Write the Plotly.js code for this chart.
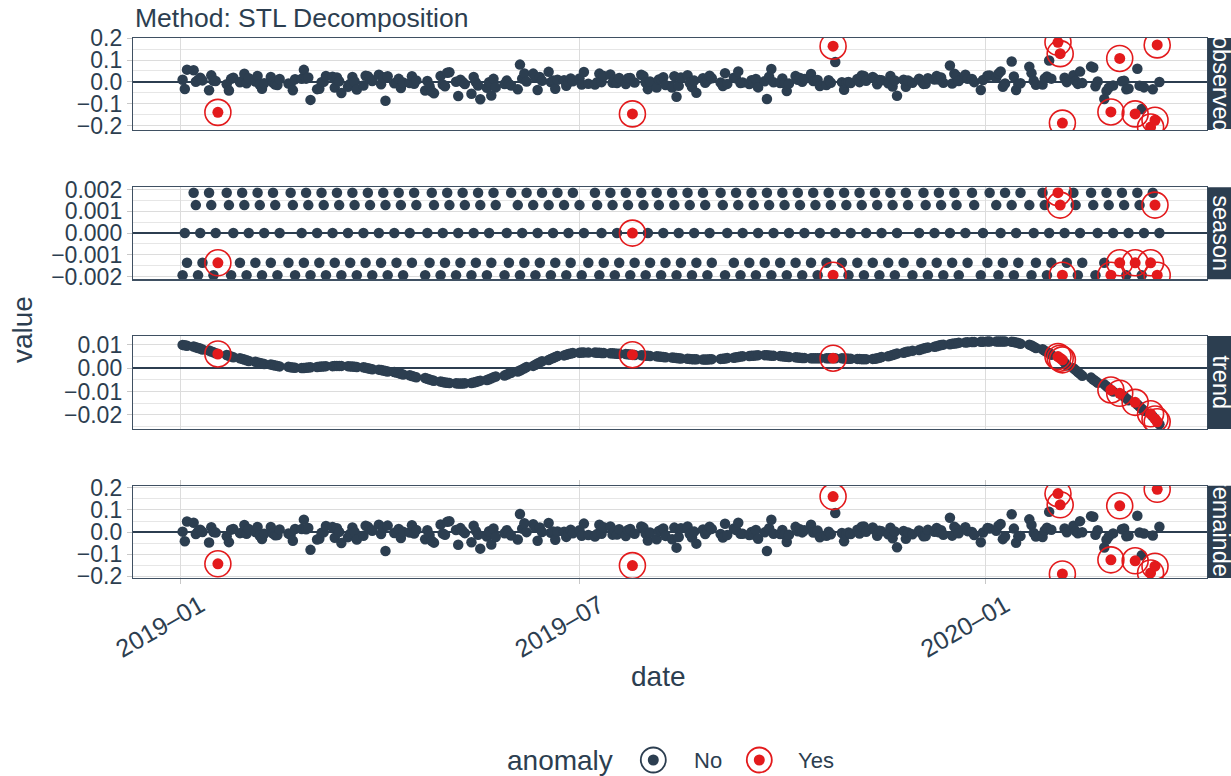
<!DOCTYPE html>
<html><head><meta charset="utf-8">
<script src="https://cdn.plot.ly/plotly-3.0.1.min.js"></script>
<style>html,body{margin:0;padding:0;background:#fff;}#chart{width:1231px;height:776px;}</style>
</head><body><div id="chart"></div>
<script>
// ---- data ----
const startDate = '2019-01-02';
const endDate = '2020-03-20';
const marketHolidays = ['2019-01-21','2019-02-18','2019-04-19','2019-05-27','2019-07-04','2019-09-02','2019-11-28','2019-12-25','2020-01-01','2020-01-20','2020-02-17'];

const observed = [
 0.010,-0.032,0.056,0.053,0.001,0.009,0.019,0.007,-0.038,0.030,0.005,0.004,-0.139,-0.011,-0.039,0.014,0.019,-0.002,0.004,0.037,-0.006,
 0.017,0.002,0.027,-0.013,-0.031,-0.006,0.023,-0.003,-0.012,-0.014,0.013,-0.007,-0.010,-0.038,0.012,0.014,0.055,0.015,0.020,
 -0.082,-0.033,-0.031,-0.001,0.001,0.027,0.024,-0.026,0.020,0.003,-0.051,-0.022,-0.008,0.023,0.002,-0.035,-0.016,0.028,0.026,0.014,0.004,
 0.033,-0.011,0.021,-0.086,0.026,-0.006,-0.003,0.014,-0.028,-0.003,-0.005,0.026,-0.008,0.007,-0.039,0.004,-0.020,-0.044,-0.052,0.027,-0.012,
 -0.020,0.042,0.044,0.001,-0.064,0.010,0.000,-0.010,-0.054,0.023,-0.002,-0.016,-0.079,-0.027,-0.001,-0.062,0.014,-0.025,-0.010,0.006,-0.009,-0.016,
 -0.034,0.079,0.015,0.039,0.002,0.038,0.020,-0.037,0.022,0.005,0.046,-0.001,0.007,-0.031,0.010,0.008,-0.018,-0.002,0.016,0.003,
 0.016,-0.012,0.045,-0.008,-0.012,-0.001,0.038,-0.001,0.027,0.034,-0.004,0.010,-0.005,0.018,-0.010,0.017,0.018,-0.146,-0.003,0.033,0.027,-0.003,
 -0.033,0.002,-0.026,0.011,0.012,0.021,-0.014,-0.026,0.026,-0.068,-0.018,0.020,0.031,-0.004,-0.023,0.006,-0.050,0.017,-0.004,0.007,0.028,0.017,
 -0.003,-0.019,0.040,-0.009,0.019,0.016,0.048,-0.005,-0.003,-0.010,0.008,-0.005,0.013,-0.025,0.003,-0.078,0.024,0.059,-0.002,-0.005,
 0.016,-0.006,-0.042,-0.007,0.027,0.010,0.018,0.001,0.013,0.036,0.004,0.007,0.009,-0.019,-0.014,0.008,-0.004,0.163,0.091,-0.001,-0.036,-0.004,0.000,
 -0.005,0.013,-0.001,0.029,0.027,0.005,0.023,0.014,-0.011,0.009,0.008,-0.006,0.027,-0.021,0.007,-0.063,0.010,-0.022,0.007,-0.004,
 0.015,0.004,-0.009,-0.008,0.017,0.011,0.027,0.011,0.020,-0.004,0.075,-0.007,0.037,0.027,0.004,0.033,0.014,0.013,-0.001,-0.037,0.009,
 0.028,0.029,0.019,0.038,0.048,-0.022,-0.007,0.093,0.025,-0.037,-0.010,-0.006,0.069,0.040,0.005,-0.013,-0.012,0.016,0.025,0.098,0.015,
 0.181,0.129,-0.188,0.019,-0.001,0.031,0.004,-0.009,0.047,-0.005,0.070,0.066,-0.020,0.002,-0.078,-0.041,-0.027,-0.137,-0.016,
 0.107,0.003,0.005,-0.034,-0.030,-0.146,0.060,-0.017,-0.124,-0.025,-0.206,-0.034,-0.175,0.169,0.000
];

const seasonPattern = [-0.00194, 0.00000, -0.00137, 0.00186, 0.00129];

const trend = [
 0.0100,0.0098,0.0096,0.0093,0.0090,0.0087,0.0084,0.0080,0.0076,0.0072,0.0068,
 0.0064,0.0061,0.0057,0.0053,0.0050,0.0047,0.0043,0.0040,0.0037,0.0034,
 0.0031,0.0028,0.0025,0.0022,0.0020,0.0018,0.0016,0.0014,0.0012,0.0010,
 0.0008,0.0006,0.0004,0.0003,0.0002,0.0001,0.0001,0.0002,0.0003,0.0004,
 0.0005,0.0006,0.0007,0.0008,0.0009,0.0009,0.0010,0.0010,0.0010,0.0010,
 0.0009,0.0008,0.0007,0.0006,0.0005,0.0004,0.0002,0.0000,-0.0002,-0.0004,
 -0.0006,-0.0008,-0.0010,-0.0012,-0.0014,-0.0016,-0.0018,-0.0021,-0.0024,-0.0027,
 -0.0030,-0.0033,-0.0036,-0.0039,-0.0042,-0.0045,-0.0048,-0.0051,-0.0054,-0.0057,
 -0.0059,-0.0061,-0.0062,-0.0063,-0.0064,-0.0065,-0.0065,-0.0065,-0.0064,-0.0063,
 -0.0061,-0.0059,-0.0056,-0.0053,-0.0050,-0.0047,-0.0043,-0.0039,-0.0035,-0.0031,
 -0.0027,-0.0023,-0.0019,-0.0014,-0.0010,-0.0005,0.0000,0.0005,0.0010,0.0015,
 0.0020,0.0025,0.0030,0.0035,0.0040,0.0044,0.0048,0.0052,0.0055,0.0058,
 0.0061,0.0063,0.0065,0.0066,0.0067,0.0067,0.0067,0.0067,0.0066,0.0066,
 0.0065,0.0065,0.0064,0.0064,0.0063,0.0062,0.0062,0.0061,0.0060,0.0059,
 0.0058,0.0057,0.0056,0.0055,0.0054,0.0053,0.0052,0.0051,0.0050,0.0049,
 0.0048,0.0047,0.0046,0.0045,0.0044,0.0043,0.0042,0.0041,0.0040,0.0039,
 0.0038,0.0038,0.0037,0.0037,0.0037,0.0038,0.0039,0.0040,0.0041,0.0042,
 0.0044,0.0045,0.0047,0.0048,0.0050,0.0051,0.0052,0.0053,0.0054,0.0055,
 0.0056,0.0056,0.0056,0.0055,0.0054,0.0053,0.0052,0.0051,0.0050,0.0049,
 0.0048,0.0047,0.0046,0.0045,0.0044,0.0044,0.0043,0.0043,0.0043,0.0043,
 0.0043,0.0043,0.0043,0.0043,0.0043,0.0043,0.0043,0.0042,0.0042,0.0041,
 0.0041,0.0040,0.0040,0.0039,0.0039,0.0039,0.0040,0.0041,0.0043,0.0045,
 0.0048,0.0051,0.0054,0.0057,0.0060,0.0063,0.0066,0.0069,0.0072,0.0075,
 0.0078,0.0081,0.0084,0.0087,0.0089,0.0092,0.0094,0.0097,0.0099,0.0101,
 0.0103,0.0105,0.0106,0.0107,0.0109,0.0110,0.0111,0.0112,0.0112,0.0113,
 0.0113,0.0114,0.0114,0.0114,0.0114,0.0114,0.0114,0.0114,0.0113,0.0112,
 0.0110,0.0108,0.0105,0.0101,0.0097,0.0092,0.0087,0.0081,0.0075,0.0069,
 0.0065,0.0058,0.0050,0.0043,0.0036,0.0024,0.0012,0.0000,-0.0008,-0.0016,
 -0.0024,-0.0032,-0.0040,-0.0048,-0.0055,-0.0062,-0.0069,-0.0077,-0.0085,-0.0093,
 -0.0100,-0.0107,-0.0114,-0.0121,-0.0129,-0.0137,-0.0146,-0.0155,-0.0164,-0.0173,
 -0.0182,-0.0195,-0.0206,-0.0217,-0.0229,-0.0240
];

const anomalyDates = ['2019-01-18','2019-07-25','2019-10-24','2020-02-03','2020-02-04','2020-02-05',
  '2020-02-27','2020-03-02','2020-03-09','2020-03-16','2020-03-18','2020-03-19'];

const panelNames = ['observed','season','trend','remainder'];
const xTickVals = ['2019-01-01','2019-07-01','2020-01-01'];
const xTickText = ['2019\u201301','2019\u201307','2020\u201301'];
const yTickVals = [[-0.2,-0.1,0,0.1,0.2],[-0.002,-0.001,0,0.001,0.002],[-0.02,-0.01,0,0.01],[-0.2,-0.1,0,0.1,0.2]];
const yTickText = [['\u22120.2','\u22120.1','0.0','0.1','0.2'],['\u22120.002','\u22120.001','0.000','0.001','0.002'],['\u22120.02','\u22120.01','0.00','0.01'],['\u22120.2','\u22120.1','0.0','0.1','0.2']];
const yMinorVals = [[-0.15,-0.05,0.05,0.15],[-0.0015,-0.0005,0.0005,0.0015],[-0.025,-0.015,-0.005,0.005],[-0.15,-0.05,0.05,0.15]];
const yRanges = [[-0.2195,0.2005],[-0.00213,0.00211],[-0.0260,0.0138],[-0.208,0.210]];

// ---- build dates (business days) ----
function fmt(d){return d.toISOString().slice(0,10);}
const dates = [];
for (let d = new Date(startDate+'T00:00:00Z'); d <= new Date(endDate+'T00:00:00Z'); d.setUTCDate(d.getUTCDate()+1)) {
  const wd = d.getUTCDay();
  const s = fmt(d);
  if (wd === 0 || wd === 6 || marketHolidays.includes(s)) continue;
  dates.push(s);
}
const season = dates.map((d,i) => seasonPattern[i % seasonPattern.length]);
const remainder = dates.map((d,i) => observed[i] - season[i] - trend[i]);
const series = [observed, season, trend, remainder];
const isAnom = dates.map(d => anomalyDates.includes(d));

const DARK = '#2c3e50', RED = '#e31a1c', BORDER = '#3f5062';
const FONT = 'Liberation Sans, Arial, Helvetica, sans-serif';
const traces = [];
series.forEach((vals, p) => {
  const ya = p === 0 ? 'y' : 'y' + (p+1);
  const nx=[], ny=[], ax=[], ay=[];
  vals.forEach((v,i) => { if (isAnom[i]) { ax.push(dates[i]); ay.push(v); } else { nx.push(dates[i]); ny.push(v); } });
  traces.push({type:'scatter', mode:'markers', x:nx, y:ny, xaxis:'x', yaxis:ya, marker:{color:DARK, size:10.5}, showlegend:false, hoverinfo:'skip'});
  traces.push({type:'scatter', mode:'markers', x:ax, y:ay, xaxis:'x', yaxis:ya, marker:{color:RED, size:11}, showlegend:false, hoverinfo:'skip'});
  traces.push({type:'scatter', mode:'markers', x:ax, y:ay, xaxis:'x', yaxis:ya, marker:{color:RED, size:26, symbol:'circle-open', line:{width:1.6, color:RED}}, showlegend:false, hoverinfo:'skip'});
});

// plot area: left 133, right 1207, top 38, bottom 578
const W = 1231, H = 776, L = 133, R = 24, T = 38, B = 198;
const plotH = H - T - B, plotW = W - L - R;
function py(pix){ return (H - B - pix) / plotH; }
function px(pix){ return (pix - L) / plotW; }
const panelPix = [[38,130],[187.3,279.3],[336,429],[485.7,578]];

const layout = {
  width: W, height: H,
  margin: {l:L, r:R, t:T, b:B},
  paper_bgcolor: '#ffffff', plot_bgcolor: '#ffffff',
  font: {family: FONT, color: DARK},
  showlegend: false,
  xaxis: {
    type:'date', range:['2018-12-10 12:00','2020-04-10 14:00'], anchor:'y4',
    tickmode:'array', tickvals:xTickVals, ticktext:xTickText, tickangle:-30,
    tickfont:{size:25, color:DARK, family:FONT}, ticklabelshift:20, ticklabelstandoff:-3,
    showgrid:true, gridcolor:'#dcdcdc', gridwidth:1,
    showline:true, mirror:'all', linecolor:BORDER, linewidth:1.2,
    ticks:'outside', ticklen:5, tickcolor:'#c8c8c8', zeroline:false
  },
  shapes: [], annotations: []
};
panelNames.forEach((name, p) => {
  const key = p === 0 ? 'yaxis' : 'yaxis' + (p+1);
  const [top, bot] = panelPix[p];
  layout[key] = {
    domain:[py(bot), py(top)], anchor:'x', range:yRanges[p],
    tickmode:'array', tickvals:yTickVals[p], ticktext:yTickText[p],
    tickfont:{size:23, color:DARK, family:FONT},
    showgrid:true, gridcolor:'#dcdcdc', gridwidth:1,
    minor:{tickmode:'array', tickvals:yMinorVals[p], showgrid:true, gridcolor:'#e6e6e6', gridwidth:1, ticks:''},
    zeroline:true, zerolinecolor:DARK, zerolinewidth:2.2,
    showline:true, mirror:true, linecolor:BORDER, linewidth:1.2,
    ticks:'outside', ticklen:5, tickcolor:'#c8c8c8'
  };
  const yref = (p === 0 ? 'y' : 'y' + (p+1)) + ' domain';
  layout.shapes.push({type:'rect', xref:'paper', yref:yref, x0:1.0005, x1:1.06, y0:0, y1:1, fillcolor:DARK, line:{width:0}, layer:'above'});
  layout.annotations.push({xref:'paper', yref:yref, x:px(1221), y:0.5, xanchor:'center', yanchor:'middle',
    text:name, textangle:90, showarrow:false, font:{size:23.5, color:'#ffffff', family:FONT}});
});

// title & axis titles
layout.annotations.push({xref:'paper', yref:'paper', x:0, y:py(18), xanchor:'left', yanchor:'middle', text:'Method: STL Decomposition', showarrow:false, font:{size:26.5, color:DARK, family:FONT}});
layout.annotations.push({xref:'paper', yref:'paper', x:px(22), y:py(330), xanchor:'center', yanchor:'middle', text:'value', textangle:-90, showarrow:false, font:{size:28, color:DARK, family:FONT}});
layout.annotations.push({xref:'paper', yref:'paper', x:px(658), y:py(676), xanchor:'center', yanchor:'middle', text:'date', showarrow:false, font:{size:28, color:DARK, family:FONT}});

// legend (custom)
const legY = py(760);
layout.annotations.push({xref:'paper', yref:'paper', x:px(505), y:legY, xanchor:'left', yanchor:'middle', text:'anomaly', showarrow:false, font:{size:28, color:DARK, family:FONT}});
layout.annotations.push({xref:'paper', yref:'paper', x:px(692), y:legY, xanchor:'left', yanchor:'middle', text:'No', showarrow:false, font:{size:22, color:DARK, family:FONT}});
layout.annotations.push({xref:'paper', yref:'paper', x:px(796), y:legY, xanchor:'left', yanchor:'middle', text:'Yes', showarrow:false, font:{size:22, color:DARK, family:FONT}});
[[653.3, DARK],[759.3, RED]].forEach(([cx, col]) => {
  layout.shapes.push({type:'circle', xref:'paper', yref:'paper', xsizemode:'pixel', ysizemode:'pixel', xanchor:px(cx), yanchor:legY,
    x0:-12.5, x1:12.5, y0:-12.5, y1:12.5, line:{color:col, width:1.8}, fillcolor:'rgba(0,0,0,0)'});
  layout.shapes.push({type:'circle', xref:'paper', yref:'paper', xsizemode:'pixel', ysizemode:'pixel', xanchor:px(cx), yanchor:legY,
    x0:-5.5, x1:5.5, y0:-5.5, y1:5.5, line:{color:col, width:0}, fillcolor:col});
});

Plotly.newPlot('chart', traces, layout, {displayModeBar:false, staticPlot:true});
</script>
</body></html>
